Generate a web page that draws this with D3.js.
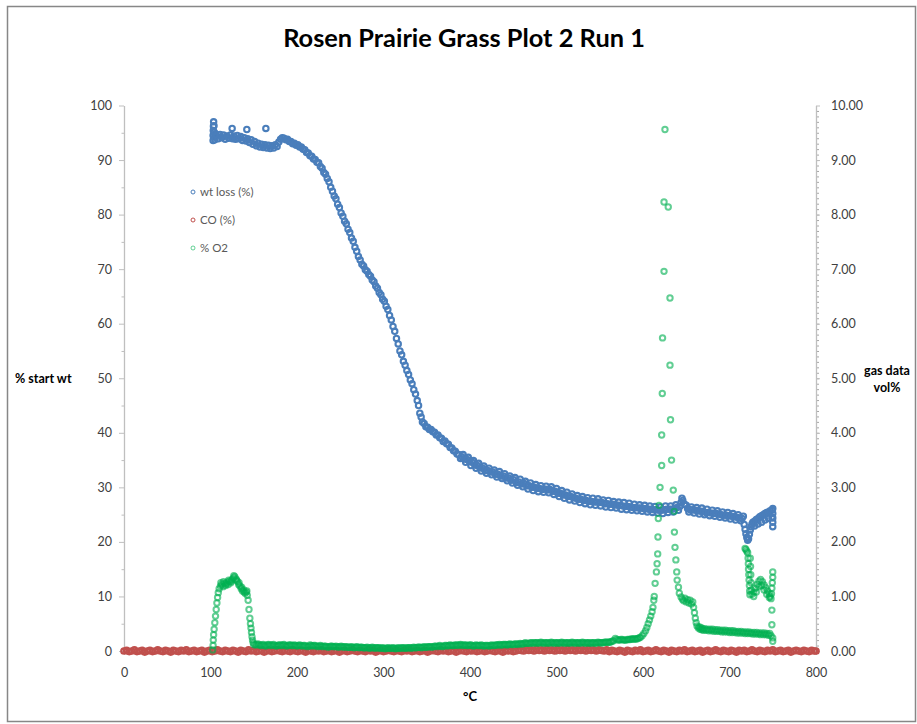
<!DOCTYPE html>
<html><head><meta charset="utf-8">
<script src="https://cdn.jsdelivr.net/npm/d3@7/dist/d3.min.js"></script>
<style>
body{margin:0;background:#fff;}
svg{display:block;font-family:Lato,"Open Sans",sans-serif;}
</style></head>
<body><svg id="c" width="917" height="724"></svg>
<script>
// ---------- data ----------
const chartTitle = "Rosen Prairie Grass Plot 2 Run 1";
const xTicks = [0,100,200,300,400,500,600,700,800];
const leftTicks = [0,10,20,30,40,50,60,70,80,90,100];
const rightTicks = [0,1,2,3,4,5,6,7,8,9,10];
const seriesNames = ["wt loss (%)","CO (%)","% O2"];

// wt loss (%) vs °C  (left axis)
const wtLoss = [
[103,93.6],[103,94.5],[103.2,95.4],[103.4,96.2],[103.6,97],[104,96.3],[104.3,95.1],[104.6,94.2],[105,93.7],[105.5,94.8],
[107,94.5],[109,93.9],[111,94.7],[113,94.1],[115,94.6],[117,93.8],[119,94.4],[121,94],[123,94.6],[125,95.8],[125.5,93.9],[127,94.4],[129,93.8],[131,94.5],[133,93.9],[135,94.3],[137,93.6],[139,94.1],[141,93.5],[142,95.6],[143,93.9],[145,93.2],[147,93.7],[149,92.9],[151,93.4],[153,92.6],[155,93.1],[157,92.4],[159,92.9],[161,92.3],[163,92.8],[164,95.8],[165,92.2],[167,92.7],[169,92.1],[171,92.6],[173,92.2],[175,92.8],[177,92.5],[179,93.3],[181,93.8],[183,94.1],[185,94],[187,93.7],[189,93.8],[191,93.4],[193,93.4],[195,93],[197,93.1],[199,92.7],
[201,92.8],[203,92.4],[205,92.4],[207,92],[209,91.9],[211,91.4],[213,91.3],[215,90.8],[217,90.7],[219,90.2],[221,90.1],[223,89.6],[225,89.5],[227,88.8],[229,88.5],[231,87.7],[233,87.4],[235,86.6],[237,86],[239,85],[241,84.3],[243,83.4],[245,82.9],[247,81.9],[249,81.3],[251,80.3],[253,79.7],[255,78.8],[257,78.3],[259,77.3],[261,76.7],[263,75.7],[265,75.1],[267,74],[269,73.3],[271,72.3],[273,71.7],[275,70.9],[277,70.6],[279,69.9],[281,69.6],[283,69],[285,68.7],[287,68],[289,67.7],[291,66.9],[293,66.5],[295,65.7],[297,65.3],[299,64.5],[301,64.1],[303,63.2],[305,62.6],[307,61.5],[309,60.7],[311,59.5],[313,58.6],[315,57.3],[317,56.3],[319,55],[321,54.3],[323,53.1],[325,52.4],[327,51.4],[329,50.7],[331,49.7],[333,49],[335,47.9],[337,47.1],[339,45.9],[340.5,45],[342,43.6],[343.5,42.9],[345,42],[347,41.7],[349,41.1],[351,41],[353,40.6],[355,40.6],[357,40.2],[359,40.1],[361,39.6],[363,39.6],[365,39.1],[367,39],[369,38.4],[371,38.5],[373,38],[375,37.9],[377,37.3],[379,37.2],[381,36.7],[383,36.6],[385,36.1],[387,36],
[389,35.3],[392,36],[395,34.6],[398,35.5],[401,34],[404,34.9],[407,33.5],[410,34.4],[413,33],[416,33.9],[419,32.6],[422,33.5],[425,32.3],[428,33.2],[431,31.9],[434,32.9],[437,31.6],[440,32.5],[443,31.2],[446,32.1],[449,30.8],[452,31.8],[455,30.4],[458,31.5],[461,30.1],[464,31.1],[467,29.7],[470,30.8],[473,29.4],[476,30.5],[479,29.2],[482,30.3],[485,29.1],[488,30.2],[491,29],[494,30.1],[497,28.7],[500,29.8],[503,28.3],[506,29.4],[509,28],[512,29.1],[515,27.7],[518,28.8],[521,27.5],[524,28.5],[527,27.2],[530,28.3],[533,27],[536,28.1],[539,26.8],[542,28],[545,26.7],[548,27.9],[551,26.6],[554,27.7],[557,26.4],[560,27.6],[563,26.3],[566,27.4],[569,26.2],[572,27.3],[575,26],[578,27.2],[581,25.9],[584,27.1],[587,25.8],[590,26.9],[593,25.7],[596,26.8],[599,25.6],[602,26.7],[605,25.5],[608,26.6],[611,25.4],[614,26.5],[617,25.3],[620,26.4],[623,25.2],[626,26.6],[629,25.4],[632,26.6],[635,25.5],[638,26.8],[641,25.8],[644,27.2],[645,28],[646,27.6],[648,26.9],[650,26.7],[653,25.5],[656,26.4],[659,25.3],[662,26.3],[665,25.1],[668,26.2],[671,25],[674,26],[677,24.8],[680,25.8],[683,24.7],[686,25.7],[689,24.5],[692,25.5],[695,24.4],[698,25.4],[701,24.2],[704,25.2],[707,24],[710,25],[713,23.9],[716,24.7],
[390.5,35.6],[393.5,35.2],[396.5,35.1],[399.5,34.7],[402.5,34.6],[405.5,34.1],[408.5,34],[411.5,33.6],[414.5,33.5],[417.5,33.1],[420.5,33.1],[423.5,32.8],[426.5,32.8],[429.5,32.4],[432.5,32.4],[435.5,32.1],[438.5,32.1],[441.5,31.7],[444.5,31.7],[447.5,31.3],[450.5,31.4],[453.5,30.9],[456.5,31],[459.5,30.6],[462.5,30.7],[465.5,30.3],[468.5,30.3],[471.5,30],[474.5,30],[477.5,29.8],[480.5,29.8],[483.5,29.6],[486.5,29.7],[489.5,29.5],[492.5,29.6],[495.5,29.3],[498.5,29.3],[501.5,28.9],[504.5,28.9],[507.5,28.6],[510.5,28.6],[513.5,28.3],[516.5,28.3],[519.5,28.1],[522.5,28],[525.5,27.8],[528.5,27.8],[531.5,27.6],[534.5,27.6],[537.5,27.4],[540.5,27.4],[543.5,27.3],[546.5,27.3],[549.5,27.2],[552.5,27.2],[555.5,27],[558.5,27],[561.5,26.9],[564.5,26.9],[567.5,26.8],[570.5,26.7],[573.5,26.7],[576.5,26.6],[579.5,26.5],[582.5,26.5],[585.5,26.4],[588.5,26.3],[591.5,26.3],[594.5,26.2],[597.5,26.2],[600.5,26.1],[603.5,26.1],[606.5,26],[609.5,26],[612.5,25.9],[615.5,25.9],[618.5,25.8],[621.5,25.8],[624.5,25.9],[627.5,26],[630.5,26],[633.5,26],[636.5,26.1],[639.5,26.3],[642.5,26.5],[651.5,26.1],[654.5,25.9],[657.5,25.9],[660.5,25.8],[663.5,25.7],[666.5,25.6],[669.5,25.6],[672.5,25.4],[675.5,25.4],[678.5,25.3],[681.5,25.2],[684.5,25.2],[687.5,25.1],[690.5,25],[693.5,24.9],[696.5,24.9],[699.5,24.8],[702.5,24.7],[705.5,24.6],[708.5,24.5],[711.5,24.4],[714.5,24.3],
[717,23.2],[718,22.3],[719,21.5],[720,20.8],[721,20.3],[722,20.6],[723,21.4],[724,22.2],[725,22.8],[726,23.3],[727,23.6],[729,23.8],[729,22.9],[731,24.1],[733,23.3],[733,24.3],[735,24.6],[737,23.6],[737,24.8],[739,25],[741,24],[741,25.2],[743,25.4],[745,24.3],[745,25.5],[747,25.7],[749,24.5],[749,25.8],[750,22.8],[750,23.6],[750,24.4],[750,25.2],[750,26.1]
];

// CO (%) vs °C  (right axis)
const coPct = [
[0,0],[3,0.01],[6,-0.01],[9,0],[12,0.02],[15,-0.01],[18,0],[21,0.01],[24,-0.02],[27,0],
[30,0.01],[33,-0.01],[36,0],[39,0.02],[42,0],[45,-0.01],[48,0.01],[51,0],[54,-0.02],[57,0.01],
[60,0],[63,-0.01],[66,0.01],[69,0],[72,0.02],[75,-0.01],[78,0],[81,0.01],[84,-0.01],[87,0],
[90,0.01],[93,-0.02],[96,0],[99,0.01],[102,-0.01],[105,0],[108,0.02],[111,0],[114,-0.01],[117,0.01],
[120,0],[123,-0.01],[126,0.01],[129,0],[132,-0.02],[135,0.01],[138,0],[141,-0.01],[144,0.02],[147,0],
[150,0.01],[153,-0.01],[156,0],[159,0.01],[162,-0.02],[165,0],[168,0.01],[171,-0.01],[174,0],[177,0.02],
[180,0],[183,-0.01],[186,0.01],[189,0],[192,-0.01],[195,0.02],[198,0],[201,-0.01],[204,0.01],[207,0],
[210,-0.02],[213,0.01],[216,0],[219,-0.01],[222,0.01],[225,0],[228,0.02],[231,-0.01],[234,0],[237,0.01],
[240,-0.01],[243,0],[246,0.01],[249,-0.02],[252,0],[255,0.01],[258,-0.01],[261,0],[264,0.02],[267,0],
[270,-0.01],[273,0.01],[276,0],[279,-0.01],[282,0.02],[285,0],[288,0.01],[291,-0.02],[294,0],[297,0.01],
[300,-0.01],[303,0],[306,0.02],[309,0],[312,-0.01],[315,0.01],[318,0],[321,-0.01],[324,0.01],[327,0],
[330,0.02],[333,-0.01],[336,0],[339,0.01],[342,-0.01],[345,0],[348,0.01],[351,-0.02],[354,0],[357,0.01],
[360,0],[363,-0.01],[366,0.02],[369,0],[372,0.01],[375,-0.01],[378,0],[381,0.01],[384,-0.02],[387,0],
[390,0.01],[393,0],[396,-0.01],[399,0.02],[402,0],[405,0.01],[408,-0.01],[411,0],[414,0.01],[417,-0.01],
[420,0],[423,0.02],[426,0],[429,-0.01],[432,0.01],[435,0],[438,-0.02],[441,0.01],[444,0],[447,0.01],
[450,-0.01],[453,0],[456,0.02],[459,0.01],[462,0],[465,0.03],[468,0.01],[471,0.02],[474,0],[477,0.03],
[480,0.01],[483,0.02],[486,0],[489,0.03],[492,0.01],[495,0.02],[498,0],[501,0.03],[504,0.01],[507,0.02],
[510,0],[513,0.03],[516,0.01],[519,0.02],[522,0],[525,0.03],[528,0.01],[531,0.02],[534,0],[537,0.03],
[540,0.01],[543,0.02],[546,0],[549,0.02],[552,0.01],[555,0],[558,0.02],[561,-0.01],[564,0.01],[567,0],
[570,-0.01],[573,0.01],[576,0],[579,-0.02],[582,0.01],[585,0],[588,-0.01],[591,0.01],[594,0],[597,0.02],
[600,-0.01],[603,0],[606,0.01],[609,-0.01],[612,0],[615,0.02],[618,0],[621,-0.01],[624,0.01],[627,0],
[630,-0.02],[633,0.01],[636,0],[639,-0.01],[642,0.01],[645,0],[648,0.02],[651,-0.01],[654,0],[657,0.01],
[660,-0.01],[663,0],[666,0.01],[669,-0.02],[672,0],[675,0.01],[678,-0.01],[681,0],[684,0.02],[687,0],
[690,-0.01],[693,0.01],[696,0],[699,-0.01],[702,0.01],[705,0],[708,-0.02],[711,0.01],[714,0],[717,0.01],
[720,-0.01],[723,0],[726,0.02],[729,0],[732,-0.01],[735,0.01],[738,0],[741,-0.01],[744,0.01],[747,0],
[750,0.02],[753,-0.01],[756,0],[759,0.01],[762,-0.01],[765,0],[768,0.01],[771,-0.02],[774,0],[777,0.01],
[780,0],[783,-0.01],[786,0.01],[789,0],[792,-0.01],[795,0.01],[798,0],[800,0]
];

// % O2 vs °C  (right axis)
const o2Pct = [
[102.5,0.02],[103,0.1],[103.2,0.2],[103.6,0.3],[104.2,0.4],[105,0.52],[105.8,0.64],[106.6,0.76],[107.4,0.88],[108.2,0.98],[109,1.07],[110,1.14],[111.5,1.19],[113,1.22],[114.5,1.18],[116,1.24],[117.5,1.2],[119,1.26],[120.5,1.22],[122,1.28],[123.5,1.25],[125,1.31],[126.5,1.34],[128,1.36],[129.5,1.32],[131,1.28],[132.5,1.22],[134,1.19],[135.5,1.14],[137,1.1],[138.5,1.12],[140,1.06],[141.5,1.08],[142.5,1.02],[143.5,0.93],[144.5,0.76],[145.5,0.6],[146.2,0.5],[146.8,0.42],[147.4,0.34],[148,0.26],[148.6,0.2],[149.3,0.15],[150,0.12],
[112,1.25],[115,1.27],[118,1.23],[121,1.3],[124,1.28],[127,1.38],[130,1.3],[133,1.25],[136,1.17],[139,1.08],[142,1.1],
[152,0.11],[155,0.13],[158,0.1],[161,0.12],[164,0.09],[167,0.12],[170,0.1],[173,0.12],[176,0.09],[179,0.11],[182,0.1],[185,0.12],[188,0.09],[191,0.11],[194,0.1],[197,0.11],[200,0.09],[203,0.11],[206,0.09],[209,0.1],[212,0.08],[215,0.11],[218,0.09],[221,0.1],[224,0.08],[227,0.1],[230,0.08],[233,0.09],[236,0.07],[239,0.09],[242,0.08],[245,0.09],[248,0.07],[251,0.09],[254,0.07],[257,0.08],[260,0.07],[263,0.08],[266,0.06],[269,0.08],[272,0.06],[275,0.07],[278,0.06],[281,0.07],[284,0.05],[287,0.07],[290,0.05],[293,0.06],[296,0.05],[299,0.06],[302,0.04],[305,0.06],[308,0.05],[311,0.06],[314,0.04],[317,0.06],[320,0.05],[323,0.06],[326,0.05],[329,0.06],[332,0.05],[335,0.07],[338,0.06],[341,0.07],[344,0.06],[347,0.08],[350,0.07],[353,0.08],[356,0.07],[359,0.09],[362,0.08],[365,0.1],[368,0.08],[371,0.1],[374,0.09],[377,0.11],[380,0.1],[383,0.11],[386,0.1],[389,0.12],[392,0.1],[395,0.11],[398,0.1],[401,0.11],[404,0.09],[407,0.11],[410,0.1],[413,0.11],[416,0.09],[419,0.1],[422,0.09],[425,0.11],[428,0.1],[431,0.11],[434,0.12],[437,0.11],[440,0.12],[443,0.11],[446,0.13],[449,0.12],[452,0.13],[455,0.12],[458,0.14],[461,0.13],[464,0.15],[467,0.14],[470,0.15],[473,0.14],[476,0.15],[479,0.14],[482,0.16],[485,0.14],[488,0.15],[491,0.14],[494,0.16],[497,0.14],[500,0.15],[503,0.14],[506,0.16],[509,0.14],[512,0.15],[515,0.14],[518,0.16],[521,0.14],[524,0.15],[527,0.14],[530,0.16],[533,0.14],[536,0.15],[539,0.14],[542,0.15],[545,0.14],[548,0.16],[551,0.15],[554,0.15],[557,0.16],[560,0.16],[563,0.17],[566,0.19],[568,0.23],[570,0.21],[573,0.2],[576,0.21],[579,0.2],[582,0.21],[585,0.21],[588,0.22],[591,0.22],[594,0.23],[597,0.25],
[153.5,0.12],[156.5,0.11],[159.5,0.11],[162.5,0.1],[165.5,0.11],[168.5,0.11],[171.5,0.11],[174.5,0.1],[177.5,0.1],[180.5,0.11],[183.5,0.11],[186.5,0.1],[189.5,0.1],[192.5,0.11],[195.5,0.1],[198.5,0.1],[201.5,0.1],[204.5,0.1],[207.5,0.1],[210.5,0.09],[213.5,0.09],[216.5,0.1],[219.5,0.1],[222.5,0.09],[225.5,0.09],[228.5,0.09],[231.5,0.09],[234.5,0.08],[237.5,0.08],[240.5,0.09],[243.5,0.08],[246.5,0.08],[249.5,0.08],[252.5,0.08],[255.5,0.08],[258.5,0.07],[261.5,0.07],[264.5,0.07],[267.5,0.07],[270.5,0.07],[273.5,0.07],[276.5,0.06],[279.5,0.06],[282.5,0.06],[285.5,0.06],[288.5,0.06],[291.5,0.06],[294.5,0.06],[297.5,0.05],[300.5,0.05],[303.5,0.05],[306.5,0.05],[309.5,0.05],[312.5,0.05],[315.5,0.05],[318.5,0.05],[321.5,0.06],[324.5,0.05],[327.5,0.06],[330.5,0.06],[333.5,0.06],[336.5,0.06],[339.5,0.07],[342.5,0.07],[345.5,0.07],[348.5,0.07],[351.5,0.08],[354.5,0.08],[357.5,0.08],[360.5,0.09],[363.5,0.09],[366.5,0.09],[369.5,0.09],[372.5,0.1],[375.5,0.1],[378.5,0.1],[381.5,0.1],[384.5,0.11],[387.5,0.11],[390.5,0.11],[393.5,0.11],[396.5,0.1],[399.5,0.11],[402.5,0.1],[405.5,0.1],[408.5,0.1],[411.5,0.1],[414.5,0.1],[417.5,0.1],[420.5,0.1],[423.5,0.1],[426.5,0.1],[429.5,0.11],[432.5,0.11],[435.5,0.11],[438.5,0.12],[441.5,0.12],[444.5,0.12],[447.5,0.12],[450.5,0.12],[453.5,0.13],[456.5,0.13],[459.5,0.13],[462.5,0.14],[465.5,0.14],[468.5,0.14],[471.5,0.15],[474.5,0.15],[477.5,0.15],[480.5,0.15],[483.5,0.15],[486.5,0.15],[489.5,0.15],[492.5,0.15],[495.5,0.15],[498.5,0.15],[501.5,0.15],[504.5,0.15],[507.5,0.15],[510.5,0.15],[513.5,0.15],[516.5,0.15],[519.5,0.15],[522.5,0.15],[525.5,0.15],[528.5,0.15],[531.5,0.15],[534.5,0.15],[537.5,0.15],[540.5,0.15],[543.5,0.15],[546.5,0.15],[549.5,0.15],[552.5,0.15],[555.5,0.16],[558.5,0.16],[561.5,0.16],[564.5,0.18],[571.5,0.2],[574.5,0.21],[577.5,0.2],[580.5,0.2],[583.5,0.21],[586.5,0.22],[589.5,0.22],[592.5,0.22],[595.5,0.24],
[599,0.28],[601,0.32],[603,0.37],[604.5,0.43],[606,0.5],[607.5,0.57],[609,0.64],[610.5,0.72],[611.5,0.8],[612.5,0.93],[613,1.0],[614,1.24],[615.5,1.45],[616.3,1.6],[617,1.78],[617.3,2.09],[617.7,2.43],[618.5,2.67],[619.7,3.0],[621.6,3.4],[621.6,3.96],[622.3,4.72],[622.6,5.74],[624.3,6.96],[624.3,8.23],[625.4,9.56],
[629.2,8.14],[631.2,6.47],[631.2,5.24],[631.8,4.24],[633,3.5],[635,2.95],[636,2.56],[636.3,2.18],[637,1.9],[638,1.67],[639,1.45],[639.5,1.3],[641,1.17],[642,1.06],[644,0.99],[645.5,0.95],[647,0.92],[648.5,0.97],[650,0.9],[651.5,0.94],[653,0.88],[654.5,0.93],[656,0.86],[657.5,0.9],[658.5,0.8],[659.5,0.7],[660.5,0.6],[661.5,0.52],[662.5,0.46],[664,0.42],[666,0.4],[668,0.39],[670,0.38],[673,0.38],[676,0.37],[679,0.37],[682,0.36],[685,0.36],[688,0.36],[691,0.35],[694,0.35],[697,0.35],[700,0.34],[703,0.34],[706,0.34],[709,0.33],[712,0.33],[715,0.33],[718,0.32],[721,0.32],[724,0.32],[727,0.31],[730,0.31],[733,0.31],[736,0.3],[739,0.3],[742,0.3],[745,0.29],[748,0.28],[750,0.24],[750,0.18],
[665,0.44],[667,0.43],[669,0.41],[671.5,0.41],[674.5,0.4],[677.5,0.4],[680.5,0.4],[683.5,0.39],[686.5,0.39],[689.5,0.38],[692.5,0.38],[695.5,0.38],[698.5,0.37],[701.5,0.37],[704.5,0.37],[707.5,0.36],[710.5,0.36],[713.5,0.36],[716.5,0.35],[719.5,0.35],[722.5,0.35],[725.5,0.34],[728.5,0.34],[731.5,0.34],[734.5,0.33],[737.5,0.33],[740.5,0.33],[743.5,0.32],[746.5,0.32],
[718,1.88],[719,1.86],[720,1.83],[721,1.8],[721.5,1.7],[721.8,1.6],[722,1.5],[722.3,1.4],[722.6,1.3],[723,1.2],[723.3,1.1],[723.6,1.03],[724,1.7],[724.3,1.55],[724.6,1.4],[725,1.25],[725.3,1.12],[726,1.04],[728,1.08],[730,1.15],[732,1.22],[734,1.28],[736,1.31],[738,1.27],[740,1.21],[742,1.16],[744,1.1],[746,1.05],[747,1.0],[748,0.96],[728,1.0],[731,1.08],[734,1.18],[737,1.2],[740,1.12],[743,1.04],[746,0.98],[748.5,1.05],[749,1.15],[749.5,1.25],[750,1.35],[750,1.45],[749,0.75],[749,0.48]
];

// ---------- drawing ----------
const svg = d3.select("#c");
const W = 917, H = 724;
const x = d3.scaleLinear().domain([0,800]).range([124,816]);
const yL = d3.scaleLinear().domain([0,100]).range([651,105.5]);
const yR = d3.scaleLinear().domain([0,10]).range([651,105.5]);
const axisCol = "#bfbfbf", textCol = "#404040";

svg.append("rect").attr("x",0).attr("y",0).attr("width",W).attr("height",H).attr("fill","#fff");
svg.append("rect").attr("x",7.5).attr("y",6.5).attr("width",908).attr("height",715)
  .attr("fill","none").attr("stroke","#878787").attr("stroke-width",1.5);

// title
const title = svg.append("text").attr("x",464).attr("y",47).attr("text-anchor","middle")
  .attr("font-weight","bold").attr("font-size",24).attr("fill","#000").text(chartTitle);
const tl = title.node().getComputedTextLength();
title.attr("font-size", 24*362/tl);

function styleAxis(g){
  g.select(".domain").attr("stroke",axisCol).attr("stroke-width",1.3);
  g.selectAll(".tick line").attr("stroke",axisCol).attr("stroke-width",1);
  g.selectAll(".tick text").attr("fill",textCol).attr("font-size",12.5).attr("font-family","Lato,'Open Sans',sans-serif");
}

// left axis minor + major
svg.append("g").attr("transform","translate(124,0)")
  .call(d3.axisLeft(yL).tickValues(d3.range(5,100,10)).tickSize(2.5).tickSizeOuter(0).tickFormat(""))
  .call(g=>{g.select(".domain").remove(); g.selectAll("line").attr("stroke",axisCol);});
svg.append("g").attr("transform","translate(124,0)")
  .call(d3.axisLeft(yL).tickValues(leftTicks).tickSize(5).tickSizeOuter(0).tickPadding(7).tickFormat(d3.format("d")))
  .call(styleAxis);

// right axis minor + major
svg.append("g").attr("transform","translate(816,0)")
  .call(d3.axisRight(yR).tickValues(d3.range(0,100).map(i=>i/10)).tickSize(3).tickSizeOuter(0).tickFormat(""))
  .call(g=>{g.select(".domain").remove(); g.selectAll("line").attr("stroke","#a6a6a6");});
svg.append("g").attr("transform","translate(816,0)")
  .call(d3.axisRight(yR).tickValues(rightTicks).tickSize(4).tickSizeOuter(0).tickPadding(11).tickFormat(d3.format(".2f")))
  .call(styleAxis);

// x axis
svg.append("g").attr("transform","translate(0,651)")
  .call(d3.axisBottom(x).tickValues(xTicks).tickSize(4).tickSizeOuter(0).tickPadding(13).tickFormat(d3.format("d")))
  .call(styleAxis);

// axis titles
svg.append("text").attr("x",15).attr("y",383).attr("font-weight","bold").attr("font-size",12.5).attr("fill","#000").text("% start wt");
svg.append("text").attr("x",470).attr("y",701).attr("text-anchor","middle").attr("font-weight","bold").attr("font-size",13).attr("fill","#000").text("°C");
const rt = svg.append("text").attr("text-anchor","middle").attr("font-weight","bold").attr("font-size",12.5).attr("fill","#000");
rt.append("tspan").attr("x",887).attr("y",375).text("gas data");
rt.append("tspan").attr("x",887).attr("y",392).text("vol%");

// series
const colors = ["#4A7EBB","#C0504D","#00B050"];
const R = 2.7;
svg.append("g").selectAll("circle").data(wtLoss).join("circle")
  .attr("cx",d=>x(d[0])).attr("cy",d=>yL(d[1])).attr("r",R)
  .attr("fill","none").attr("stroke",colors[0]).attr("stroke-width",2.1);
svg.append("g").selectAll("circle").data(coPct).join("circle")
  .attr("cx",d=>x(d[0])).attr("cy",d=>yR(d[1])).attr("r",R)
  .attr("fill","none").attr("stroke",colors[1]).attr("stroke-width",2.3);
svg.append("g").selectAll("circle").data(o2Pct).join("circle")
  .attr("cx",d=>x(d[0])).attr("cy",d=>yR(d[1])).attr("r",R)
  .attr("fill","none").attr("stroke",colors[2]).attr("stroke-width",2).attr("stroke-opacity",0.62);

// legend
const lg = svg.append("g").attr("transform","translate(193,192)");
seriesNames.forEach((n,i)=>{
  const row = lg.append("g").attr("transform",`translate(0,${i*28})`);
  row.append("circle").attr("r",2).attr("fill","none").attr("stroke",colors[i]).attr("stroke-width",1)
    .attr("stroke-opacity", i===2?0.6:1);
  row.append("text").attr("x",7).attr("y",0).attr("dy","0.35em").attr("font-size",11.5)
    .attr("fill","#595959").text(n);
});
</script></body></html>
